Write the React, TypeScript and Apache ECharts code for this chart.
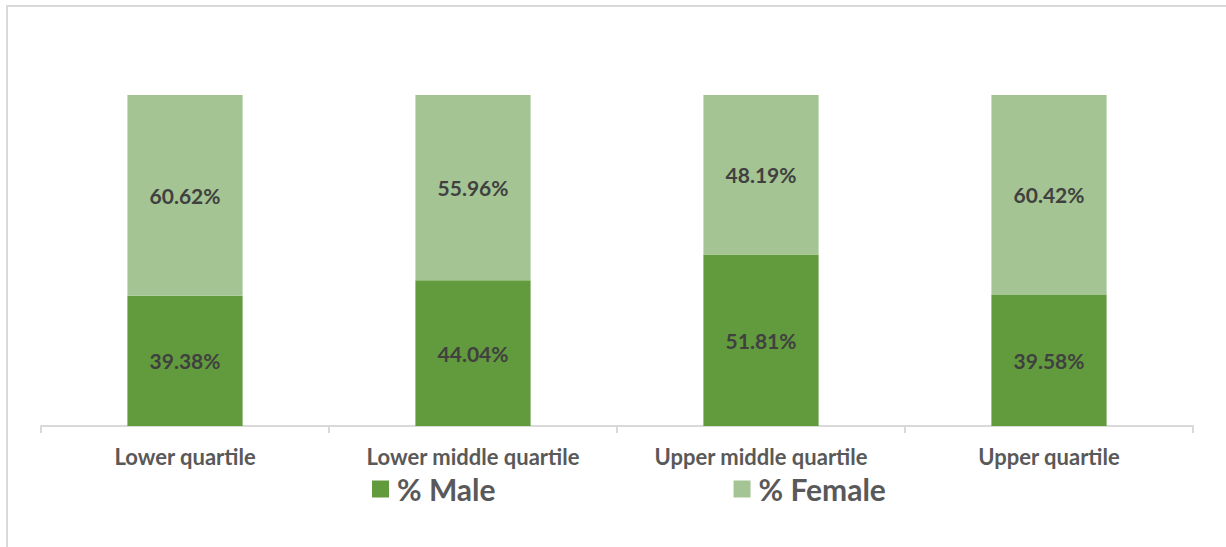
import React, { useEffect, useRef } from "react";
import * as echarts from "echarts";

const categories = ["Lower quartile", "Lower middle quartile", "Upper middle quartile", "Upper quartile"];
const maleValues = [39.38, 44.04, 51.81, 39.58];
const femaleValues = [60.62, 55.96, 48.19, 60.42];

export default function App() {
  const ref = useRef<HTMLDivElement>(null);
  useEffect(() => {
    const chart = echarts.init(ref.current!, null, { renderer: "svg" });
    const labelStyle = {
      show: true,
      position: "inside",
      formatter: (p: any) => p.value.toFixed(2) + "%",
      color: "#404040",
      fontFamily: "Lato",
      fontWeight: "bold",
      fontSize: 21,
    };
    chart.setOption({
      animation: false,
      backgroundColor: "#ffffff",
      graphic: [
        { type: "line", shape: { x1: 6, y1: 6, x2: 1226, y2: 6 }, style: { stroke: "#d9d9d9", lineWidth: 2 } },
        { type: "line", shape: { x1: 7, y1: 6, x2: 7, y2: 547 }, style: { stroke: "#d9d9d9", lineWidth: 2 } },
      ],
      grid: { left: 41, right: 33, top: 95, bottom: 121, containLabel: false },
      legend: {
        top: 469,
        left: 367,
        itemGap: 238,
        itemWidth: 17,
        itemHeight: 17,
        icon: "rect",
        textStyle: { color: "#595959", fontFamily: "Lato", fontWeight: "bold", fontSize: 30, lineHeight: 30, padding: [0, 0, 0, 3] },
        data: ["% Male", "% Female"],
      },
      xAxis: {
        type: "category",
        data: categories,
        axisLine: { lineStyle: { color: "#d9d9d9", width: 2 } },
        axisTick: { show: true, length: 7, lineStyle: { color: "#d9d9d9", width: 2 } },
        axisLabel: { color: "#595959", fontFamily: "Lato", fontWeight: "bold", fontSize: 22, margin: 19 },
      },
      yAxis: { type: "value", min: 0, max: 100, show: false, splitLine: { show: false } },
      series: [
        {
          name: "% Male",
          type: "bar",
          stack: "total",
          barWidth: "40%",
          data: maleValues,
          itemStyle: { color: "#629b3d" },
          label: labelStyle,
        },
        {
          name: "% Female",
          type: "bar",
          stack: "total",
          barWidth: "40%",
          data: femaleValues,
          itemStyle: { color: "#a4c593" },
          label: labelStyle,
        },
      ],
    });
    return () => chart.dispose();
  }, []);
  return (
    <div
      ref={ref}
      style={{ position: "fixed", left: 0, top: 0, width: 1226, height: 547 }}
    />
  );
}
